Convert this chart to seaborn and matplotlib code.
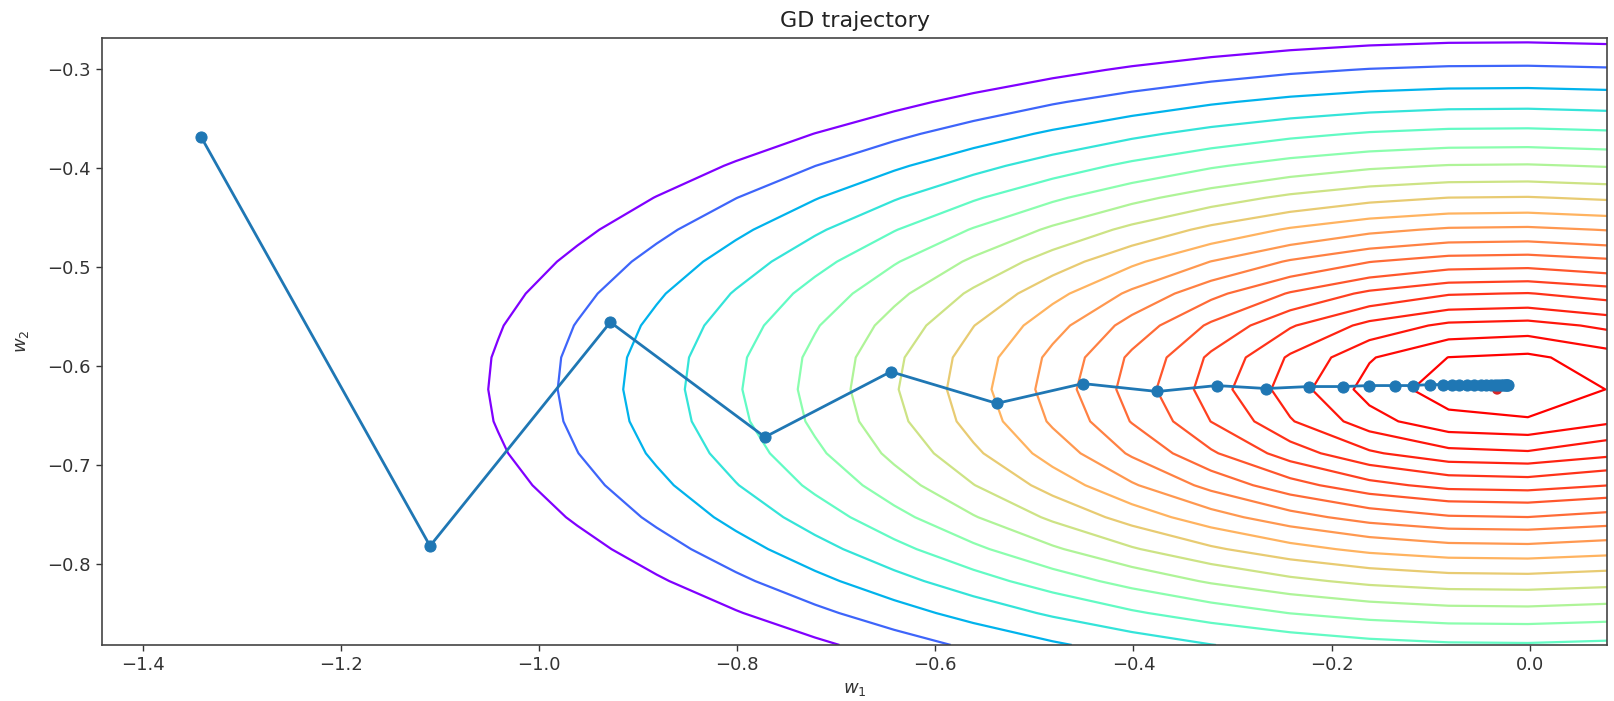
import numpy as np
import matplotlib
matplotlib.use("Agg")
import matplotlib.pyplot as plt
import seaborn as sns

# --- GD trajectory (w1, w2) ---
w1_path = [-1.341, -1.110, -0.928, -0.772, -0.645, -0.538, -0.451, -0.376,
           -0.316, -0.266, -0.223, -0.189, -0.162, -0.136, -0.118, -0.101,
           -0.088, -0.079, -0.071, -0.063, -0.056, -0.049, -0.044, -0.039,
           -0.035, -0.032, -0.029, -0.027, -0.025, -0.024, -0.023, -0.022]
w2_path = [-0.369, -0.782, -0.556, -0.672, -0.606, -0.638, -0.618, -0.626,
           -0.620, -0.623, -0.621, -0.621, -0.620, -0.620, -0.620, -0.619,
           -0.619, -0.619, -0.619, -0.619, -0.619, -0.619, -0.619, -0.619,
           -0.619, -0.619, -0.619, -0.619, -0.619, -0.619, -0.619, -0.619]

# true minimum marker
w_opt = [-0.033, -0.624]

# loss surface (quadratic bowl) parameters
bowl_center = [-0.025, -0.620]
bowl_axis_ratio = 2.96     # w1 semi-axis / w2 semi-axis
bowl_floor = 0.010
grid_pad = 0.1
grid_n = 20

# contour levels (outermost -> innermost)
levels = [0.1303, 0.1145, 0.1006, 0.0884, 0.0777, 0.0683, 0.0600, 0.0528,
          0.0464, 0.0408, 0.0358, 0.0315, 0.0277, 0.0243, 0.0214, 0.0188,
          0.0165, 0.0145, 0.0128, 0.0112]

sns.set_theme(style="ticks")
plt.rcParams["font.family"] = ["DejaVu Sans"]
plt.rcParams["mathtext.fontset"] = "dejavusans"

fig = plt.figure(figsize=(16.15, 7.01), dpi=100)
ax = fig.add_axes([0.0632, 0.0799, 0.9319, 0.8659])

x0, x1 = min(w1_path) - grid_pad, max(w1_path) + grid_pad
y0, y1 = min(w2_path) - grid_pad, max(w2_path) + grid_pad
gx = np.linspace(x0, x1, grid_n)
gy = np.linspace(y0, y1, grid_n)
W1, W2 = np.meshgrid(gx, gy)
Z = ((W1 - bowl_center[0]) / bowl_axis_ratio) ** 2 + (W2 - bowl_center[1]) ** 2 + bowl_floor

ax.contour(W1, W2, Z, levels=sorted(levels), cmap="rainbow_r", linewidths=1.6)

sns.scatterplot(x=[w_opt[0]], y=[w_opt[1]], color="#d62728", s=55,
                edgecolor="none", ax=ax, zorder=3)
sns.lineplot(x=w1_path, y=w2_path, sort=False, estimator=None, marker="o",
             markersize=8, color="#1f77b4", linewidth=2.0,
             markeredgecolor="#1f77b4", ax=ax, zorder=4)

ax.set_xlim(x0, x1)
ax.set_ylim(y0, y1)
ax.set_xticks([-1.4, -1.2, -1.0, -0.8, -0.6, -0.4, -0.2, 0.0])
ax.set_yticks([-0.3, -0.4, -0.5, -0.6, -0.7, -0.8])
ax.tick_params(labelsize=13, length=4.5, width=1.0, color="#333333", labelcolor="#333333")
for s in ax.spines.values():
    s.set_visible(True)
    s.set_color("#444444")
    s.set_linewidth(1.2)

ax.set_title("GD trajectory", fontsize=16, color="#222222", pad=8)
ax.set_xlabel(r"$w_1$", fontsize=13, color="#333333", labelpad=4)
ax.set_ylabel(r"$w_2$", fontsize=13, color="#333333", labelpad=12)

fig.savefig("out.png", dpi=100)
